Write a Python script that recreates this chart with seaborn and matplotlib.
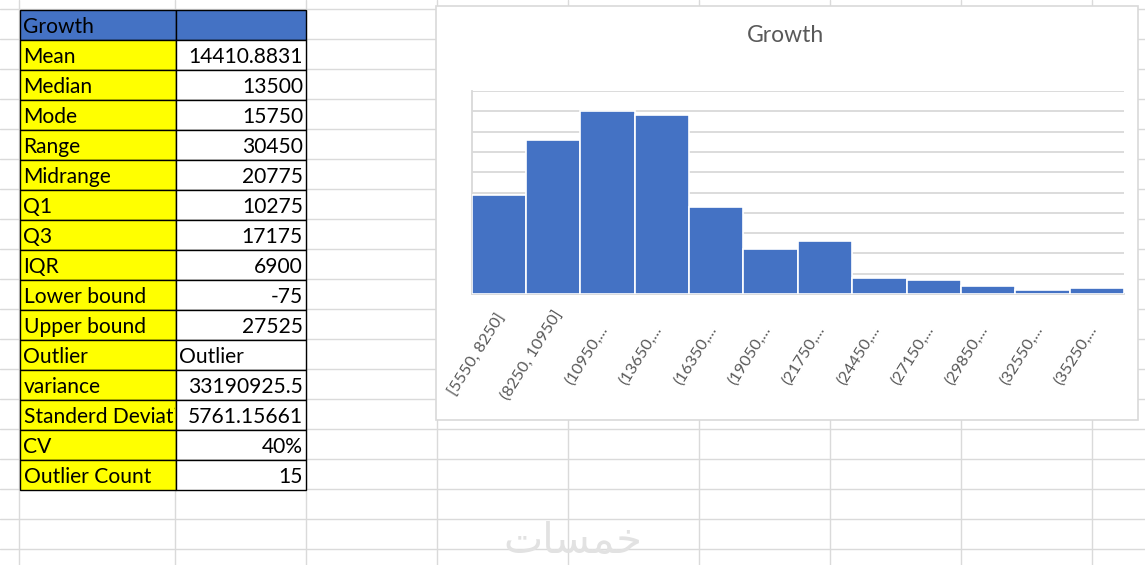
import matplotlib
matplotlib.use("Agg")
import matplotlib.pyplot as plt
from matplotlib.patches import Rectangle
from matplotlib.transforms import ScaledTranslation
import pandas as pd
import seaborn as sns

# ---------------------------
# Data
# ---------------------------
stat_names = ["Mean", "Median", "Mode", "Range", "Midrange", "Q1", "Q3", "IQR",
              "Lower bound", "Upper bound", "Outlier", "variance",
              "Standerd Deviati", "CV", "Outlier Count"]
stat_values = ["14410.8831", "13500", "15750", "30450", "20775", "10275", "17175",
               "6900", "-75", "27525", "Outlier", "33190925.5", "5761.15661",
               "40%", "15"]

bin_labels = ["[5550, 8250]", "(8250, 10950]", "(10950,...", "(13650,...",
              "(16350,...", "(19050,...", "(21750,...", "(24450,...",
              "(27150,...", "(29850,...", "(32550,...", "(35250,..."]
bin_counts = [49, 76, 90, 88, 43, 22, 26, 8, 7, 4, 2, 3]

sns.set_style("white")
plt.rcParams["font.family"] = ["Lato", "DejaVu Sans"]

W, H = 1145, 565
fig = plt.figure(figsize=(W / 100, H / 100), dpi=100)

# ---------------------------
# Spreadsheet background (pixel coordinates)
# ---------------------------
bg = fig.add_axes([0, 0, 1, 1])
bg.set_xlim(0, W)
bg.set_ylim(H, 0)
bg.axis("off")

grid_color = "#dadada"
for x in [19, 175, 306, 437, 568, 699, 830, 961, 1092]:
    bg.plot([x, x], [0, H], color=grid_color, lw=1, zorder=1)
for y in range(9, H, 30):
    bg.plot([0, W], [y, y], color=grid_color, lw=1, zorder=1)

# table
col_a, col_b, col_c = 19.5, 175.5, 306
row_top, row_h = 9.5, 30
fs = 15.1

bg.add_patch(Rectangle((col_a, row_top), col_b - col_a, row_h, facecolor="#4472C4",
                       edgecolor="black", lw=1, zorder=3))
bg.add_patch(Rectangle((col_b, row_top), col_c - col_b, row_h, facecolor="#4472C4",
                       edgecolor="black", lw=1, zorder=3))
bg.text(col_a + 4, row_top + 23.5, "Growth", fontsize=fs, color="black", zorder=4)

for i, (name, val) in enumerate(zip(stat_names, stat_values)):
    y0 = row_top + row_h * (i + 1)
    bg.add_patch(Rectangle((col_a, y0), col_b - col_a, row_h, facecolor="#FFFF00",
                           edgecolor="black", lw=1, zorder=3))
    bg.add_patch(Rectangle((col_b, y0), col_c - col_b, row_h, facecolor="white",
                           edgecolor="black", lw=1, zorder=3))
    t = bg.text(col_a + 4, y0 + 23.5, name, fontsize=fs, color="black", zorder=4)
    clip = Rectangle((col_a, y0), col_b - col_a - 1, row_h, transform=bg.transData)
    t.set_clip_on(True)
    t.set_clip_path(clip)
    if val == "Outlier":
        bg.text(col_b + 4, y0 + 23.5, val, fontsize=fs, color="black", zorder=4)
    else:
        bg.text(col_c - 3, y0 + 23.5, val, fontsize=fs, color="black", ha="right", zorder=4)

# chart frame
bg.add_patch(Rectangle((435.5, 5.5), 1138 - 435.5, 419.5 - 5.5, facecolor="white",
                       edgecolor="#d9d9d9", lw=1.2, zorder=5))
bg.text(786, 42, "Growth", fontsize=16.5, color="#595959", ha="center", zorder=6)

# watermark
bg.text(573, 541, "\uFE95\uFE8E\uFEB4\uFEE4\uFEA7", fontsize=30, color="#e2e2e2",
        ha="center", va="center", family="DejaVu Sans", zorder=2)

# ---------------------------
# Histogram
# ---------------------------
left, right, top, bottom = 471.5, 1124, 91, 294
ax = fig.add_axes([left / W, (H - bottom) / H, (right - left) / W, (bottom - top) / H])
ax.set_zorder(7)

df = pd.DataFrame({"bin": bin_labels, "count": bin_counts})
sns.barplot(data=df, x="bin", y="count", ax=ax, color="#4472C4", saturation=1,
            width=1, edgecolor="white", linewidth=1.2, zorder=3)

ax.set_xlim(-0.5, len(bin_labels) - 0.5)
ax.set_ylim(0, 100)
ax.set_yticks(range(0, 101, 10))
ax.set_yticklabels([])
ax.yaxis.grid(True, color="#d9d9d9", lw=1.3)
ax.set_axisbelow(True)
ax.set_xlabel("")
ax.set_ylabel("")
ax.tick_params(axis="both", length=0)
ax.tick_params(axis="x", pad=44)

# Excel centres the rotated labels a little left of each bar
shift = ScaledTranslation(-21 / 100, 0, fig.dpi_scale_trans)
for lab in ax.get_xticklabels():
    lab.set_rotation(58)
    lab.set_ha("center")
    lab.set_va("center")
    lab.set_rotation_mode("anchor")
    lab.set_fontsize(11.8)
    lab.set_color("#595959")
    lab.set_transform(lab.get_transform() + shift)
for s in ["top", "right"]:
    ax.spines[s].set_visible(False)
ax.spines["left"].set_color("#d9d9d9")
ax.spines["bottom"].set_color("#d9d9d9")
ax.spines["left"].set_linewidth(1.3)
ax.spines["bottom"].set_linewidth(1.3)

fig.savefig("out.png", dpi=100)
